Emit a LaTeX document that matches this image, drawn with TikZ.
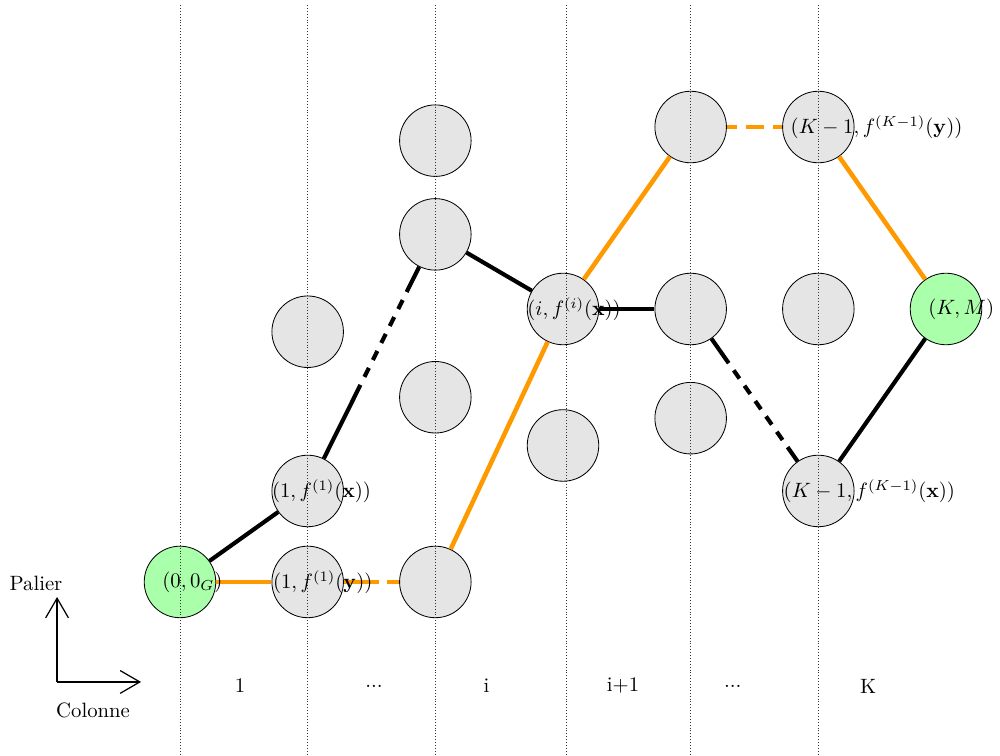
\documentclass[tikz,border=0pt]{standalone}
\usepackage{amsmath,amssymb}
\usepackage{xcolor}
\usepackage{tikz}
\usetikzlibrary{arrows.meta,positioning,calc}
\definecolor{vertetat}{RGB}{170,255,170}
\definecolor{orangechemin}{RGB}{255,153,0}

\begin{document}
\begin{tikzpicture}[
    x=2.165cm, y=1.543cm,
    etat/.style={circle, draw=black, fill=gray!20, minimum size=1.213cm, inner sep=0pt},
    extreme/.style={etat, fill=vertetat},
    cheminx/.style={line width=2pt, black},
    cheminy/.style={line width=2.2pt, orangechemin},
    coupeA/.style={dash pattern=on 39.7pt off 4.3pt on 4.85pt off 4.3pt on 4.85pt off 4.3pt on 4.85pt off 4.3pt on 4.85pt off 4.3pt on 4.85pt off 4.3pt on 40pt},
    coupeB/.style={dash pattern=on 14.5pt off 4.2pt on 4.85pt off 4.2pt on 4.85pt off 4.2pt on 4.85pt off 4.2pt on 4.85pt off 4.2pt on 4.85pt off 4.2pt on 30pt},
    coupeC/.style={dash pattern=on 17pt off 3.9pt on 20pt},
    coupeD/.style={dash pattern=on 4.85pt off 4.3pt on 8.7pt off 4.3pt on 20pt},
    colonne/.style={densely dotted, black!80},
    etiq/.style={anchor=west, inner sep=0pt},
    axe/.style={-{Straight Barb[length=9.5pt,width=11pt]}, semithick}
]
    \useasboundingbox (-1.41,-1.912) rectangle (6.423,6.396);

    % Etats par colonne
    \node[extreme] (e00) at (0,0) {};
    \node[etat] (e1x) at (1,1) {};
    \node[etat] (e1y) at (1,0) {};
    \node[etat] (e1a) at (1,2.75) {};
    \node[etat] (eia) at (2,4.85) {};
    \node[etat] (eib) at (2,3.82) {};
    \node[etat] (eic) at (2,2.03) {};
    \node[etat] (eid) at (2,0) {};
    \node[etat] (eix) at (3,3) {};
    \node[etat] (eie) at (3,1.5) {};
    \node[etat] (eja) at (4,5) {};
    \node[etat] (ejb) at (4,3) {};
    \node[etat] (ejc) at (4,1.8) {};
    \node[etat] (eKy) at (5,5) {};
    \node[etat] (eKa) at (5,3) {};
    \node[etat] (eKx) at (5,1) {};
    \node[extreme] (eKM) at (6,3) {};

    % Chemin de x (noir)
    \draw[cheminx] (e00) -- (e1x);
    \draw[cheminx, coupeA] (e1x) -- (eib);
    \draw[cheminx] (eib) -- (eix);
    \draw[cheminx] (eix) -- (ejb);
    \draw[cheminx, coupeB] (ejb) -- (eKx);
    \draw[cheminx] (eKx) -- (eKM);

    % Chemin de y (orange)
    \draw[cheminy] (e00) -- (e1y);
    \draw[cheminy, coupeC] (e1y) -- (eid);
    \draw[cheminy] (eid) -- (eix);
    \draw[cheminy] (eix) -- (eja);
    \draw[cheminy, coupeD] (eja) -- (eKy);
    \draw[cheminy] (eKy) -- (eKM);

    % Separations des colonnes
    \draw[colonne] (0,6.34) -- (0,-1.912);
    \draw[colonne] (1,6.34) -- (1,-1.912);
    \draw[colonne] (2,6.34) -- (2,-1.912);
    \draw[colonne] (3.03,6.34) -- (3.03,-1.912);
    \draw[colonne] (4,6.34) -- (4,-1.912);
    \draw[colonne] (5,6.34) -- (5,-1.912);

    % Etiquettes des etats
    \node[etiq, xshift=-0.305cm] (t00) at (e00) {$(0,0_G)$};
    \node[etiq, xshift=-0.611cm] (t1x) at (e1x) {$(1,f^{(1)}(\mathbf{x}))$};
    \node[etiq, xshift=-0.594cm] (t1y) at (e1y) {$(1,f^{(1)}(\mathbf{y}))$};
    \node[etiq, xshift=-0.611cm] (tix) at (eix) {$(i,f^{(i)}(\mathbf{x}))$};
    \node[etiq, xshift=-0.475cm] (tKy) at (eKy) {$(K-1,f^{(K-1)}(\mathbf{y}))$};
    \node[etiq, xshift=-0.594cm] (tKx) at (eKx) {$(K-1,f^{(K-1)}(\mathbf{x}))$};
    \node[etiq, xshift=-0.305cm] (tKM) at (eKM) {$(K,M)$};

    % Numeros de colonne
    \node (c1) at (0.47,-1.143) {1};
    \node (c2) at (1.52,-1.143) {...};
    \node (c3) at (2.40,-1.143) {i};
    \node (c4) at (3.47,-1.143) {i+1};
    \node (c5) at (4.33,-1.143) {...};
    \node (c6) at (5.39,-1.143) {K};

    % Axes
    \coordinate (origine) at (-0.963,-1.099);
    \coordinate (hautY) at (-0.963,-0.165);
    \coordinate (droiteX) at (-0.305,-1.099);
    \draw[axe] (origine) -- (hautY);
    \draw[axe] (origine) -- (droiteX);
    \node (palier) at (-1.128,-0.02) {Palier};
    \node (colonnelab) at (-0.681,-1.407) {Colonne};

\end{tikzpicture}
\end{document}
